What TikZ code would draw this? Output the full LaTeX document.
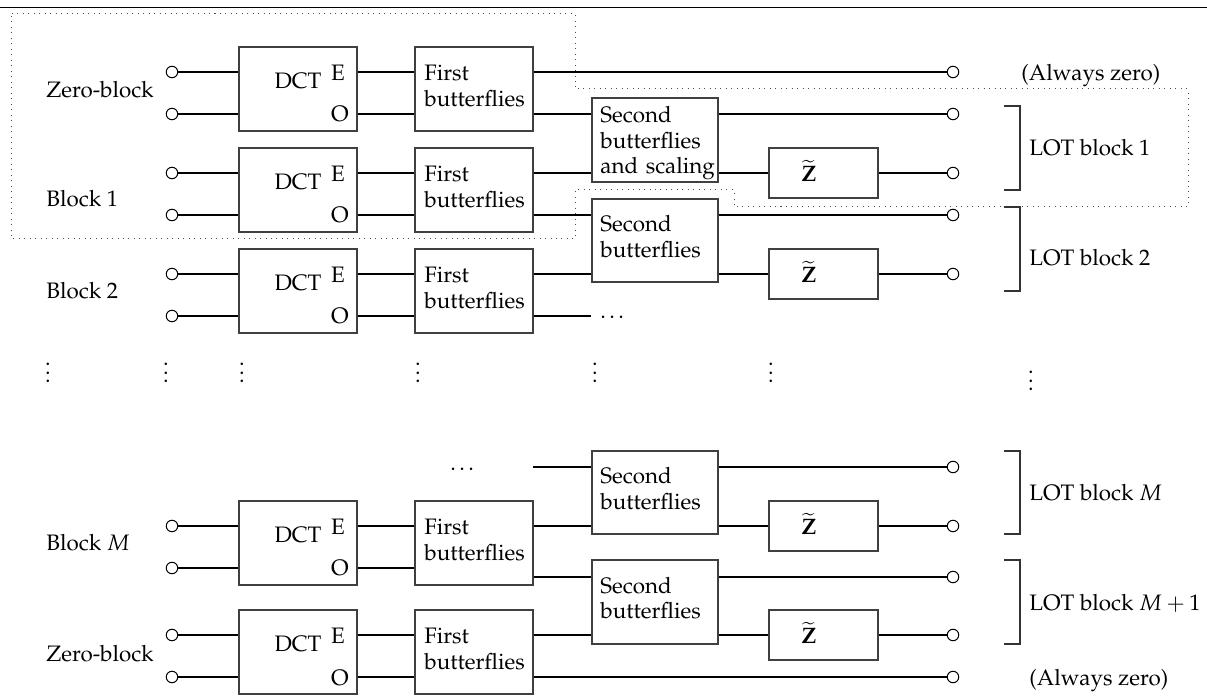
\documentclass[tikz,border=0pt]{standalone}
\usepackage[T1]{fontenc}
\usepackage{mathpazo}
\usetikzlibrary{fit}
\newdimen\px \px=0.447pt

\begin{document}
\begin{tikzpicture}[x=\px, y=-\px,
  box/.style={draw=black!75, line width=0.6pt, inner sep=0pt},
  port/.style={circle, draw=black, line width=0.45pt, minimum size=11.5\px, inner sep=0pt},
  wire/.style={line width=0.5pt},
  txt/.style={inner sep=0pt, align=left, text width=80pt, font=\fontsize{10}{11.4}\selectfont},
  lbl/.style={inner sep=0pt},
  grp/.style={draw=black!70, dotted, line width=0.45pt},
  brk/.style={draw=black!80, line width=0.6pt},
]
\useasboundingbox (0,0) rectangle (1207,696);

% top rule
\draw[line width=0.6pt] (0,7.3) -- (1207,7.3);

% dotted outline of the first LOT stage
\draw[grp] (11.7,14) -- (575,14) -- (575,89) -- (1188,89) -- (1188,207)
  -- (734,207) -- (734,190) -- (575,190) -- (575,239) -- (11.7,239) -- cycle;

% input rows: DCT and first butterflies
\foreach \r/\t/\a/\b in {0/47/72/114, 1/148/173/215, 2/249/274/316, M/501/526/568, Z/610/635/677} {
  \node[port] (in\r-a) at (172,\a) {};
  \node[port] (in\r-b) at (172,\b) {};
  \node[box, fit={(239,\t) (357,\t+84)}] (dct\r) {DCT};
  \node[lbl, anchor=base] (e\r) at (338,\a+9) {E};
  \node[lbl, anchor=base] (o\r) at (340,\b+8) {O};
  \node[box, fit={(415,\t) (533,\t+84)}] (fb\r) {};
  \node[txt, anchor=base west] (fbt\r) at (424,\t+34) {First\\butterflies};
  \draw[wire] (in\r-a) -- (in\r-a -| dct\r.west);
  \draw[wire] (in\r-b) -- (in\r-b -| dct\r.west);
  \draw[wire] (dct\r.east |- in\r-a) -- (fb\r.west |- in\r-a);
  \draw[wire] (dct\r.east |- in\r-b) -- (fb\r.west |- in\r-b);
}

% row labels
\node[lbl, anchor=base west] (lab0) at (46,98) {Zero-block};
\node[lbl, anchor=base west] (lab1) at (46,207) {Block 1};
\node[lbl, anchor=base west] (lab2) at (46,299) {Block 2};
\node[lbl, anchor=base west] (labM) at (46,551) {Block $M$};
\node[lbl, anchor=base west] (labZ) at (46,661) {Zero-block};

% output terminals
\foreach \n/\y in {A/72,B/114,C/173,D/215,E/274,F/467,G/526,H/577,I/635,J/677}
  \node[port] (out\n) at (953,\y) {};

% second butterflies
\node[box, fit={(592,98) (718,182)}] (sbs) {};
\node[txt, anchor=base west] (sbst) at (600,123) {Second\\butterflies\\and scaling};
\node[box, fit={(592,199) (718,282)}] (sb2) {};
\node[txt, anchor=base west] (sb2t) at (600,232) {Second\\butterflies};
\node[box, fit={(592,451) (718,534)}] (sbm) {};
\node[txt, anchor=base west] (sbmt) at (600,484) {Second\\butterflies};
\node[box, fit={(592,560) (718,644)}] (sbn) {};
\node[txt, anchor=base west] (sbnt) at (600,593) {Second\\butterflies};

% Z-tilde stages
\foreach \n/\t in {1/148, 2/249, m/501, n/610} {
  \node[box, fit={(769,\t) (878,\t+50)}] (z\n) {};
  \node[lbl] (zt\n) at (809,\t+23) {$\widetilde{\mathbf{Z}}$};
}

% zero-block (top)
\draw[wire] (fb0.east |- outA) -- (outA);
\draw[wire] (fb0.east |- outB) -- (sbs.west |- outB);
% block 1
\draw[wire] (fb1.east |- outC) -- (sbs.west |- outC);
\draw[wire] (fb1.east |- outD) -- (sb2.west |- outD);
% block 2
\draw[wire] (fb2.east |- outE) -- (sb2.west |- outE);
\coordinate (endA) at (591,316);
\draw[wire] (fb2.east |- endA) -- (endA);
\node[lbl, anchor=base west] (dotsA) at (600,319) {\dots};
% LOT block 1
\draw[wire] (sbs.east |- outB) -- (outB);
\draw[wire] (sbs.east |- outC) -- (z1.west |- outC);
\draw[wire] (z1.east |- outC) -- (outC);
% LOT block 2
\draw[wire] (sb2.east |- outD) -- (outD);
\draw[wire] (sb2.east |- outE) -- (z2.west |- outE);
\draw[wire] (z2.east |- outE) -- (outE);
% LOT block M
\coordinate (stubM) at (533,467);
\node[lbl, anchor=base west] (dotsB) at (450,471) {\dots};
\draw[wire] (stubM) -- (sbm.west |- stubM);
\draw[wire] (fbM.east |- outG) -- (sbm.west |- outG);
\draw[wire] (sbm.east |- outF) -- (outF);
\draw[wire] (sbm.east |- outG) -- (zm.west |- outG);
\draw[wire] (zm.east |- outG) -- (outG);
% LOT block M+1
\draw[wire] (fbM.east |- outH) -- (sbn.west |- outH);
\draw[wire] (fbZ.east |- outI) -- (sbn.west |- outI);
\draw[wire] (sbn.east |- outH) -- (outH);
\draw[wire] (sbn.east |- outI) -- (zn.west |- outI);
\draw[wire] (zn.east |- outI) -- (outI);
% zero-block (bottom)
\draw[wire] (fbZ.east |- outJ) -- (outJ);

% brackets
\foreach \a/\b in {106/190, 207/291, 451/534, 560/644}
  \draw[brk] (1004,\a) -- (1020,\a) -- (1020,\b) -- (1004,\b);

% output labels
\node[lbl, anchor=base west] (az1) at (1021,81) {(Always zero)};
\node[lbl, anchor=base west] (lot1) at (1029,156) {LOT block 1};
\node[lbl, anchor=base west] (lot2) at (1029,266) {LOT block 2};
\node[lbl, anchor=base west] (lotm) at (1029,501) {LOT block $M$};
\node[lbl, anchor=base west] (lotn) at (1029,610) {LOT block $M+1$};
\node[lbl, anchor=base west] (az2) at (1029,685) {(Always zero)};

% vertical ellipses
\foreach \x/\y [count=\k] in {48/383, 166/383, 242/383, 418/383, 595/383, 771/383, 1031/391}
  \node[lbl, anchor=base] (vd\k) at (\x,\y) {$\vdots$};
\end{tikzpicture}
\end{document}
